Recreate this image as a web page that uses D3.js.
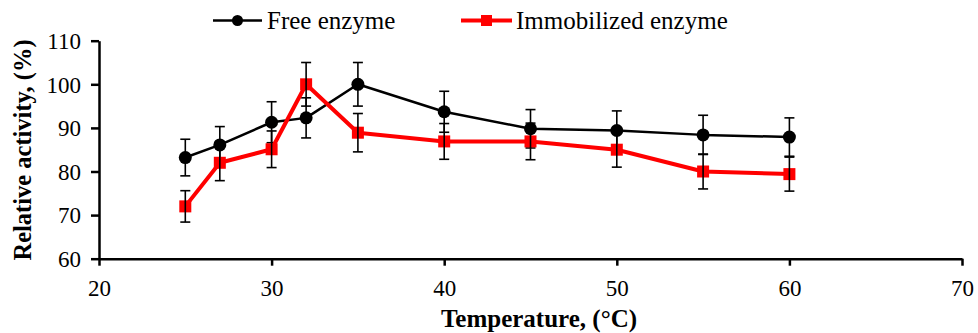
<!DOCTYPE html>
<html>
<head>
<meta charset="utf-8">
<script src="https://cdn.jsdelivr.net/npm/d3@7/dist/d3.min.js"></script>
<style>
  html, body { margin: 0; padding: 0; background: #fff; }
  svg { display: block; }
</style>
</head>
<body>
<svg id="chart" width="978" height="333"></svg>
<script>
const temperatures = [25, 27, 30, 32, 35, 40, 45, 50, 55, 60];
const freeEnzyme = [83.2, 86.1, 91.3, 92.3, 100, 93.7, 89.8, 89.4, 88.4, 87.9];
const freeError = [4.2, 4.2, 4.7, 4.6, 5.0, 4.7, 4.4, 4.5, 4.5, 4.4];
const immobilizedEnzyme = [72.0, 82.0, 85.1, 100, 88.9, 86.9, 86.9, 85.0, 80.0, 79.4];
const immobilizedError = [3.6, 4.1, 4.2, 5.0, 4.4, 4.1, 4.2, 4.0, 4.0, 3.9];
const xTicks = [20, 30, 40, 50, 60, 70];
const yTicks = [60, 70, 80, 90, 100, 110];
const seriesNames = ["Free enzyme", "Immobilized enzyme"];

const svg = d3.select("#chart");
const font = "'Liberation Serif', 'Times New Roman', serif";

const x = d3.scaleLinear().domain([20, 70]).range([99, 962]);
const y = d3.scaleLinear().domain([60, 110]).range([258.7, 40.7]);

// axes
const xAxis = svg.append("g").attr("transform", `translate(0,${y(60)})`)
  .call(d3.axisBottom(x).tickValues(xTicks).tickSize(7).tickSizeOuter(0).tickPadding(13));
const yAxis = svg.append("g").attr("transform", `translate(${x(20)},0)`)
  .call(d3.axisLeft(y).tickValues(yTicks).tickSize(8).tickSizeOuter(0).tickPadding(10));
[xAxis, yAxis].forEach(a => {
  a.select(".domain").attr("stroke", "#000").attr("stroke-width", 2.5);
  a.selectAll(".tick line").attr("stroke", "#000").attr("stroke-width", 2.5);
  a.selectAll(".tick text").attr("fill", "#000").style("font-family", font).style("font-size", "23px");
});
xAxis.selectAll(".tick text").attr("dy", "0.75em");
yAxis.selectAll(".tick text").attr("dy", "0.34em");

// axis titles
svg.append("text").attr("x", 539).attr("y", 327).attr("text-anchor", "middle")
  .style("font-family", font).style("font-size", "25px").style("font-weight", "bold")
  .text("Temperature, (°C)");
svg.append("text").attr("transform", `translate(31,150) rotate(-90)`).attr("text-anchor", "middle")
  .style("font-family", font).style("font-size", "24.5px").style("font-weight", "bold")
  .text("Relative activity, (%)");

const series = [
  { name: seriesNames[0], values: freeEnzyme, err: freeError, color: "#000", width: 2.5, shape: "circle" },
  { name: seriesNames[1], values: immobilizedEnzyme, err: immobilizedError, color: "#ff0000", width: 4, shape: "square" }
];

const line = d3.line().x(d => x(d[0])).y(d => y(d[1]));

series.forEach(s => {
  const pts = temperatures.map((t, i) => [t, s.values[i], s.err[i]]);
  const g = svg.append("g");
  g.append("path").datum(pts).attr("d", line).attr("fill", "none")
    .attr("stroke", s.color).attr("stroke-width", s.width).attr("stroke-linejoin", "round");
  if (s.shape === "circle") {
    g.selectAll("circle").data(pts).join("circle")
      .attr("cx", d => x(d[0])).attr("cy", d => y(d[1])).attr("r", 6.5).attr("fill", s.color);
  } else {
    g.selectAll("rect").data(pts).join("rect")
      .attr("x", d => x(d[0]) - 6).attr("y", d => y(d[1]) - 6)
      .attr("width", 12).attr("height", 12).attr("fill", s.color);
  }
  const eb = g.selectAll("g.eb").data(pts).join("g").attr("class", "eb")
    .attr("stroke", "#000").attr("stroke-width", 1.6);
  eb.append("line").attr("x1", d => x(d[0])).attr("x2", d => x(d[0]))
    .attr("y1", d => y(d[1] - d[2])).attr("y2", d => y(d[1] + d[2]));
  eb.append("line").attr("x1", d => x(d[0]) - 5).attr("x2", d => x(d[0]) + 5)
    .attr("y1", d => y(d[1] + d[2])).attr("y2", d => y(d[1] + d[2]));
  eb.append("line").attr("x1", d => x(d[0]) - 5).attr("x2", d => x(d[0]) + 5)
    .attr("y1", d => y(d[1] - d[2])).attr("y2", d => y(d[1] - d[2]));
});

// legend
const legend = [
  { name: seriesNames[0], x0: 213, x1: 262, tx: 267, color: "#000", width: 2.5, shape: "circle" },
  { name: seriesNames[1], x0: 461, x1: 512, tx: 516, color: "#ff0000", width: 4, shape: "square" }
];
legend.forEach(l => {
  const ly = 20.5;
  svg.append("line").attr("x1", l.x0).attr("x2", l.x1).attr("y1", ly).attr("y2", ly)
    .attr("stroke", l.color).attr("stroke-width", l.width);
  const cx = (l.x0 + l.x1) / 2;
  if (l.shape === "circle") {
    svg.append("circle").attr("cx", cx).attr("cy", ly).attr("r", 5.5).attr("fill", l.color);
  } else {
    svg.append("rect").attr("x", cx - 5.5).attr("y", ly - 5.5).attr("width", 11).attr("height", 11).attr("fill", l.color);
  }
  svg.append("text").attr("x", l.tx).attr("y", 28.5)
    .style("font-family", font).style("font-size", "25px").attr("fill", "#000").text(l.name);
});
</script>
</body>
</html>
